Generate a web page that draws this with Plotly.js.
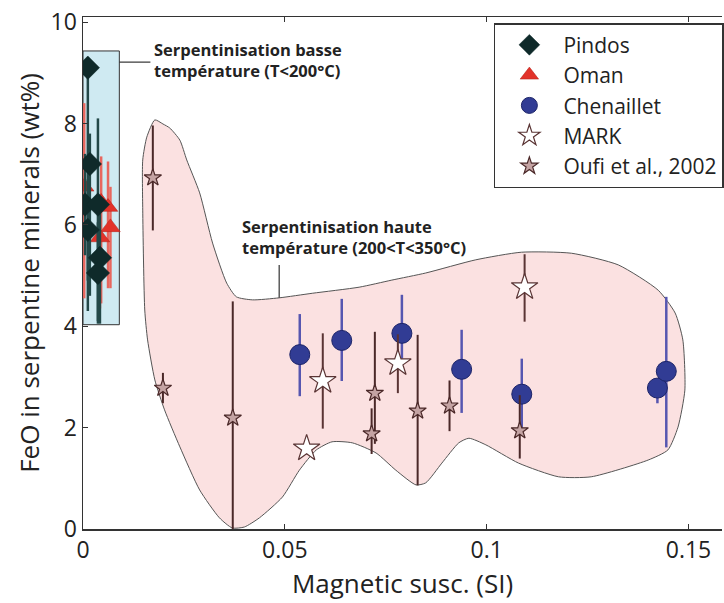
<!DOCTYPE html>
<html><head><meta charset="utf-8">
<script src="https://cdn.plot.ly/plotly-3.0.1.min.js"></script>
<style>html,body{margin:0;padding:0;background:#fff;}#chart{width:724px;height:603px;}</style>
</head><body><div id="chart"></div>
<script>
// ---- data ----
const pindosX = [0.0012, 0.0017, 0.0005, 0.0037, 0.0012, 0.0042, 0.0037];
const pindosY = [9.1, 7.2, 6.4, 6.4, 5.9, 5.35, 5.05];
const pindosErrUp = [0.2, 0.6, 1.0, 1.7, 1.0, 1.0, 1.0];
const pindosErrDn = [4.2, 2.6, 1.0, 2.3, 1.6, 1.3, 1.0];

const omanX = [0.0003, 0.0045, 0.0062, 0.0068, 0.0042];
const omanY = [6.75, 6.45, 6.35, 5.95, 5.75];
const omanErrUp = [1.65, 0.9, 0.9, 0.8, 0.6];
const omanErrDn = [2.2, 2.0, 1.6, 1.2, 1.4];

const chenX = [0.0537, 0.0641, 0.079, 0.0938, 0.1087, 0.1423, 0.1445];
const chenY = [3.44, 3.72, 3.86, 3.15, 2.66, 2.78, 3.11];
const chenErrUp = [0.8, 0.82, 0.76, 0.78, 0.7, 0.0, 1.47];
const chenErrDn = [0.82, 0.8, 0.5, 0.86, 0.7, 0.3, 1.5];

const markX = [0.0594, 0.078, 0.0554, 0.1094];
const markY = [2.92, 3.27, 1.59, 4.77];
const markErrUp = [0.94, 0.57, 0, 0.65];
const markErrDn = [0.94, 0.59, 0, 0.68];

const oufiX = [0.0173, 0.0198, 0.0371, 0.0723, 0.0715, 0.0829, 0.0908, 0.1082];
const oufiY = [6.93, 2.78, 2.19, 2.68, 1.88, 2.33, 2.43, 1.94];
const oufiErrUp = [1.03, 0.3, 2.3, 1.21, 0.5, 1.5, 0.5, 0.7];
const oufiErrDn = [1.04, 0.3, 2.19, 1.0, 0.4, 1.47, 0.5, 0.55];

// high-temperature serpentinisation field outline
const fieldX = [0.0178,0.0198,0.0215,0.0240,0.0257,0.0289,0.0321,0.0356,0.0380,0.0420,0.0486,0.0568,0.0684,0.0765,0.0849,0.0973,0.1086,0.1210,0.1326,0.1425,0.1467,0.1486,0.1491,0.1474,0.1449,0.1400,0.1259,0.1178,0.1079,0.0998,0.0956,0.0931,0.0889,0.0849,0.0825,0.0775,0.0726,0.0667,0.0617,0.0578,0.0536,0.0494,0.0437,0.0400,0.0370,0.0338,0.0289,0.0240,0.0202,0.0178,0.0160,0.0153,0.0148,0.0148,0.0158,0.0178];
const fieldY = [8.07,7.99,7.91,7.67,7.28,6.63,5.64,4.85,4.58,4.52,4.56,4.65,4.77,4.91,5.05,5.31,5.46,5.44,5.21,4.71,4.26,3.73,2.74,2.01,1.56,1.36,1.03,1.03,1.30,1.66,1.79,1.70,1.30,0.91,0.87,1.16,1.50,1.70,1.72,1.56,1.16,0.63,0.22,0.04,0.02,0.22,0.77,1.62,2.35,2.94,3.73,4.32,6.29,7.28,7.73,8.07];

// low-temperature box
const boxX = [0, 0.009, 0.009, 0, 0];
const boxY = [4.03, 4.03, 9.43, 9.43, 4.03];

const xTicks = [0, 0.05, 0.1, 0.15];
const xTickText = ['0', '0.05', '0.1', '0.15'];
const yTicks = [0, 2, 4, 6, 8, 10];

const labelLow = 'Serpentinisation basse<br>température (T<200°C)';
const labelHigh = 'Serpentinisation haute<br>température (200<T<350°C)';

// ---- chart ----
const FONT = 'Open Sans, sans-serif';
function eb(up, dn, color, th) {
  return {type:'data', symmetric:false, array:up, arrayminus:dn, color:color, thickness:th, width:0};
}
const traces = [
  {x:fieldX, y:fieldY, type:'scatter', mode:'lines', fill:'toself', fillcolor:'#fbe1e1',
   line:{color:'#555', width:1, shape:'spline', smoothing:0.6}, showlegend:false, hoverinfo:'skip'},
  {x:boxX, y:boxY, type:'scatter', mode:'lines', fill:'toself', fillcolor:'#cfeaf2',
   line:{color:'#333', width:1}, showlegend:false, hoverinfo:'skip'},
  {x:omanX, y:omanY, type:'scatter', mode:'markers', name:'Oman', legendrank:2,
   marker:{symbol:'triangle-up', size:17, color:'#e2322a', line:{color:'#b02018', width:0.5}},
   error_y:eb(omanErrUp, omanErrDn, '#e8675f', 2.5)},
  {x:pindosX, y:pindosY, type:'scatter', mode:'markers', name:'Pindos', legendrank:1,
   marker:{symbol:'diamond', size:18, color:'#0f2a2a', line:{color:'#0f2a2a', width:0.5}},
   error_y:eb(pindosErrUp, pindosErrDn, '#234848', 2.5)},
  {x:chenX, y:chenY, type:'scatter', mode:'markers', name:'Chenaillet', legendrank:3,
   marker:{symbol:'circle', size:20, color:'#313c94', line:{color:'#1c2468', width:1}},
   error_y:eb(chenErrUp, chenErrDn, '#5656b0', 2.5)},
  {x:markX, y:markY, type:'scatter', mode:'markers', name:'MARK', legendrank:4,
   marker:{symbol:'star', size:20, color:'#ffffff', line:{color:'#5a3434', width:1.2}},
   error_y:eb(markErrUp, markErrDn, '#5a3434', 2)},
  {x:oufiX, y:oufiY, type:'scatter', mode:'markers', name:'Oufi et al., 2002', legendrank:5,
   marker:{symbol:'star', size:13, color:'#c4a3a3', line:{color:'#4a2828', width:1.2}},
   error_y:eb(oufiErrUp, oufiErrDn, '#4a2828', 2)}
];

const layout = {
  width:724, height:603,
  margin:{l:83, r:0, t:17, b:74},
  paper_bgcolor:'#fff', plot_bgcolor:'#fff',
  font:{family:FONT, color:'#222', size:23},
  showlegend:true,
  legend:{x:0.643, y:0.988, xanchor:'left', yanchor:'top', bgcolor:'#fff',
    bordercolor:'#333', borderwidth:1.5, font:{family:FONT, size:21, color:'#222'},
    tracegroupgap:0, itemwidth:58},
  xaxis:{range:[0, 0.1583], tickvals:xTicks, ticktext:xTickText, ticks:'inside', ticklen:5,
    tickcolor:'#333', showline:true, linecolor:'#333', linewidth:1.5, mirror:'ticks',
    showgrid:false, zeroline:false, tickfont:{size:23},
    title:{text:'Magnetic susc. (SI)', font:{size:26}, standoff:2}},
  yaxis:{range:[0, 10.1], tickvals:yTicks, ticks:'inside', ticklen:5, tickcolor:'#333',
    showline:true, linecolor:'#333', linewidth:1.5, mirror:false,
    showgrid:false, zeroline:false, tickfont:{size:23},
    title:{text:'FeO in serpentine minerals (wt%)', font:{size:26}, standoff:3}},
  shapes:[
    {type:'line', xref:'x', yref:'y', x0:0.009, x1:0.0167, y0:9.21, y1:9.21, line:{color:'#333', width:1.2}},
    {type:'line', xref:'x', yref:'y', x0:0.0486, x1:0.0486, y0:4.56, y1:5.21, line:{color:'#333', width:1.2}}
  ],
  annotations:[
    {x:0.0172, y:9.25, xref:'x', yref:'y', xanchor:'left', yanchor:'middle', align:'left',
     text:'<b>'+labelLow+'</b>', showarrow:false, font:{family:FONT, size:16.5, color:'#222'}},
    {x:0.0390, y:5.76, xref:'x', yref:'y', xanchor:'left', yanchor:'middle', align:'left',
     text:'<b>'+labelHigh+'</b>', showarrow:false, font:{family:FONT, size:16.5, color:'#222'}}
  ]
};
Plotly.newPlot('chart', traces, layout, {displayModeBar:false, staticPlot:true});
</script></body></html>
